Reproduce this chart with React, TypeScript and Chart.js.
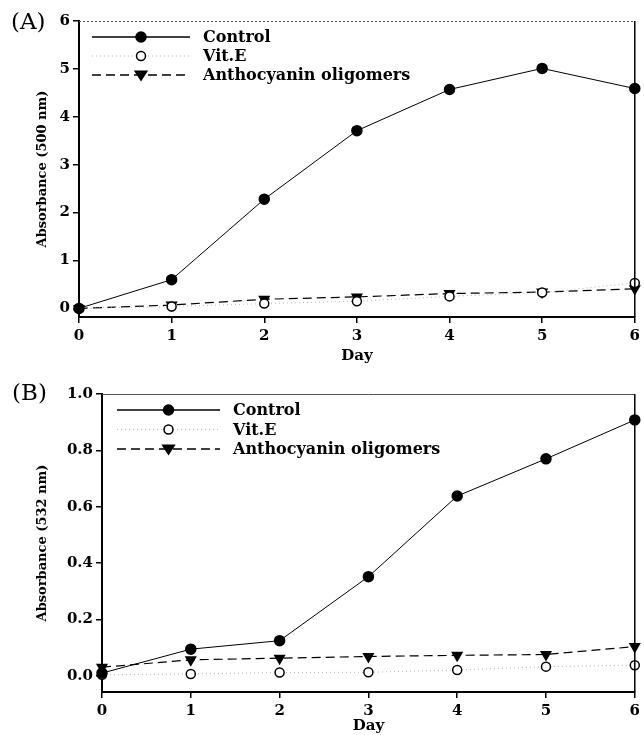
import React, { useEffect, useRef } from 'react';
import { Chart, registerables } from 'chart.js';

Chart.register(...registerables);

const days = [0, 1, 2, 3, 4, 5, 6];
const seriesNames = ['Control', 'Vit.E', 'Anthocyanin oligomers'];

const aControl = [0, 0.6, 2.28, 3.71, 4.57, 5.01, 4.59];
const aVitE = [0, 0.04, 0.1, 0.15, 0.25, 0.33, 0.53];
const aAntho = [0, 0.07, 0.19, 0.24, 0.31, 0.34, 0.41];
const aYTicks = [0, 1, 2, 3, 4, 5, 6];

const bControl = [0.01, 0.095, 0.125, 0.352, 0.638, 0.77, 0.908];
const bVitE = [0.004, 0.007, 0.012, 0.013, 0.021, 0.033, 0.038];
const bAntho = [0.031, 0.057, 0.063, 0.069, 0.073, 0.076, 0.104];
const bYTicks = [0, 0.2, 0.4, 0.6, 0.8, 1.0];

const xTicks = [0, 1, 2, 3, 4, 5, 6];

const BOLD_FONT = '"DejaVu Serif", serif';

type PanelCfg = {
  series: number[][];
  yMin: number;
  yMax: number;
  yTicks: number[];
  yDecimals: number;
  yTitle: string;
  yAxisWidth: number;
  xAxisHeight: number;
  canvasHeight: number;
  padTop: number;
  padRight: number;
  legendX: number;
  legendY: number;
  legendLineLen: number;
  legendGap: number;
  topBorderDash: number[];
};

const styles = [
  { borderDash: [] as number[], lineColor: '#000', lineWidth: 1, point: 'circle', fill: '#000', radius: 5, rotation: 0 },
  { borderDash: [1, 3], lineColor: '#b5b5b5', lineWidth: 1, point: 'circle', fill: '#fff', radius: 4.5, rotation: 0 },
  { borderDash: [9, 5], lineColor: '#000', lineWidth: 1.2, point: 'triangle', fill: '#000', radius: 5.5, rotation: 180 },
];

function drawMarker(ctx: CanvasRenderingContext2D, kind: string, x: number, y: number, r: number, fill: string) {
  ctx.save();
  ctx.setLineDash([]);
  ctx.beginPath();
  if (kind === 'circle') {
    ctx.arc(x, y, r, 0, Math.PI * 2);
  } else {
    const h = r * 1.5;
    ctx.moveTo(x - r * 1.05, y - h / 2.2);
    ctx.lineTo(x + r * 1.05, y - h / 2.2);
    ctx.lineTo(x, y + h / 1.6);
    ctx.closePath();
  }
  ctx.fillStyle = fill;
  ctx.fill();
  ctx.lineWidth = 1.5;
  ctx.strokeStyle = '#000';
  ctx.stroke();
  ctx.restore();
}

function Panel({ cfg }: { cfg: PanelCfg }) {
  const ref = useRef<HTMLCanvasElement>(null);
  useEffect(() => {
    if (!ref.current) return;
    const framePlugin = {
      id: 'frameLegend',
      afterDraw(chart: any) {
        const ctx: CanvasRenderingContext2D = chart.ctx;
        const a = chart.chartArea;
        ctx.save();
        ctx.strokeStyle = '#555';
        ctx.lineWidth = 1;
        ctx.setLineDash(cfg.topBorderDash);
        ctx.beginPath();
        ctx.moveTo(a.left, a.top + 0.5);
        ctx.lineTo(a.right, a.top + 0.5);
        ctx.stroke();
        ctx.setLineDash([]);
        ctx.strokeStyle = '#000';
        ctx.lineWidth = 1.5;
        ctx.beginPath();
        ctx.moveTo(a.right, a.top);
        ctx.lineTo(a.right, a.bottom);
        ctx.stroke();
        seriesNames.forEach((name, i) => {
          const s = styles[i];
          const y = cfg.legendY + i * cfg.legendGap;
          ctx.save();
          ctx.strokeStyle = s.lineColor;
          ctx.lineWidth = i === 1 ? 1 : 1.3;
          ctx.setLineDash(s.borderDash);
          ctx.beginPath();
          ctx.moveTo(cfg.legendX, y);
          ctx.lineTo(cfg.legendX + cfg.legendLineLen, y);
          ctx.stroke();
          ctx.restore();
          drawMarker(ctx, s.point, cfg.legendX + cfg.legendLineLen / 2, y, s.radius, s.fill);
          ctx.fillStyle = '#000';
          ctx.font = 'bold 16px ' + BOLD_FONT;
          ctx.textAlign = 'left';
          ctx.textBaseline = 'middle';
          ctx.fillText(name, cfg.legendX + cfg.legendLineLen + 13, y + 1);
        });
        ctx.restore();
      },
    };

    const datasets = cfg.series.map((vals, i) => {
      const s = styles[i];
      return {
        label: seriesNames[i],
        data: vals.map((v, k) => ({ x: days[k], y: v })),
        borderColor: s.lineColor,
        borderWidth: s.lineWidth,
        borderDash: s.borderDash,
        pointStyle: s.point,
        pointRotation: s.rotation,
        pointRadius: s.radius,
        pointBackgroundColor: s.fill,
        pointBorderColor: '#000',
        pointBorderWidth: 1.5,
        tension: 0,
        fill: false,
        clip: false as any,
      };
    });

    const chart = new Chart(ref.current, {
      type: 'line',
      data: { datasets },
      plugins: [framePlugin],
      options: {
        animation: false,
        responsive: false,
        maintainAspectRatio: false,
        events: [],
        layout: { padding: { top: cfg.padTop, right: cfg.padRight, left: 0, bottom: 0 } },
        plugins: { legend: { display: false }, tooltip: { enabled: false }, title: { display: false } },
        scales: {
          x: {
            type: 'linear',
            min: 0,
            max: 6,
            afterBuildTicks: (scale: any) => {
              scale.ticks = xTicks.map((v) => ({ value: v }));
            },
            afterFit: (scale: any) => {
              scale.height = cfg.xAxisHeight;
            },
            grid: { display: true, drawOnChartArea: false, drawTicks: true, tickLength: 6, color: '#000', lineWidth: 1.5 },
            border: { display: true, color: '#000', width: 2 },
            ticks: {
              color: '#000',
              padding: 4,
              font: { family: BOLD_FONT, weight: 'bold', size: 15 },
              callback: (v: any) => String(v),
              maxRotation: 0,
            },
            title: {
              display: true,
              text: 'Day',
              color: '#000',
              font: { family: BOLD_FONT, weight: 'bold', size: 15 },
              padding: { top: 0, bottom: 0 },
            },
          },
          y: {
            type: 'linear',
            min: cfg.yMin,
            max: cfg.yMax,
            afterBuildTicks: (scale: any) => {
              scale.ticks = cfg.yTicks.map((v) => ({ value: v }));
            },
            afterFit: (scale: any) => {
              scale.width = cfg.yAxisWidth;
            },
            grid: { display: true, drawOnChartArea: false, drawTicks: true, tickLength: 6, color: '#000', lineWidth: 1.5 },
            border: { display: true, color: '#000', width: 2 },
            ticks: {
              color: '#000',
              padding: 3,
              font: { family: BOLD_FONT, weight: 'bold', size: 15 },
              callback: (v: any) => Number(v).toFixed(cfg.yDecimals),
            },
            title: {
              display: true,
              text: cfg.yTitle,
              color: '#000',
              font: { family: BOLD_FONT, weight: 'bold', size: 13 },
              padding: { top: 35, bottom: 0 },
            },
          },
        },
      } as any,
    });
    return () => chart.destroy();
  }, [cfg]);
  return (
    <canvas
      ref={ref}
      width={644}
      height={cfg.canvasHeight}
      style={{ display: 'block', width: 644, height: cfg.canvasHeight }}
    />
  );
}

const cfgA: PanelCfg = {
  series: [aControl, aVitE, aAntho],
  yMin: -0.18,
  yMax: 6,
  yTicks: aYTicks,
  yDecimals: 0,
  yTitle: 'Absorbance (500 nm)',
  yAxisWidth: 79,
  xAxisHeight: 48,
  canvasHeight: 365,
  padTop: 21,
  padRight: 7,
  legendX: 92,
  legendY: 37,
  legendLineLen: 98,
  legendGap: 19,
  topBorderDash: [2, 2],
};

const cfgB: PanelCfg = {
  series: [bControl, bVitE, bAntho],
  yMin: -0.057,
  yMax: 1.0,
  yTicks: bYTicks,
  yDecimals: 1,
  yTitle: 'Absorbance (532 nm)',
  yAxisWidth: 102,
  xAxisHeight: 43,
  canvasHeight: 370,
  padTop: 29,
  padRight: 9,
  legendX: 117,
  legendY: 45,
  legendLineLen: 103,
  legendGap: 19.5,
  topBorderDash: [],
};

const panelLabel: React.CSSProperties = {
  position: 'absolute',
  fontFamily: '"DejaVu Serif", serif',
  fontSize: 23,
  color: '#000',
  lineHeight: 1,
};

export default function App() {
  return (
    <div style={{ position: 'absolute', left: 0, top: 0, width: 644, height: 735, background: '#fff' }}>
      <div style={{ position: 'absolute', left: 0, top: 0 }}>
        <Panel cfg={cfgA} />
      </div>
      <div style={{ position: 'absolute', left: 0, top: 365 }}>
        <Panel cfg={cfgB} />
      </div>
      <div style={{ ...panelLabel, left: 11, top: 10 }}>(A)</div>
      <div style={{ ...panelLabel, left: 12, top: 381 }}>(B)</div>
    </div>
  );
}
